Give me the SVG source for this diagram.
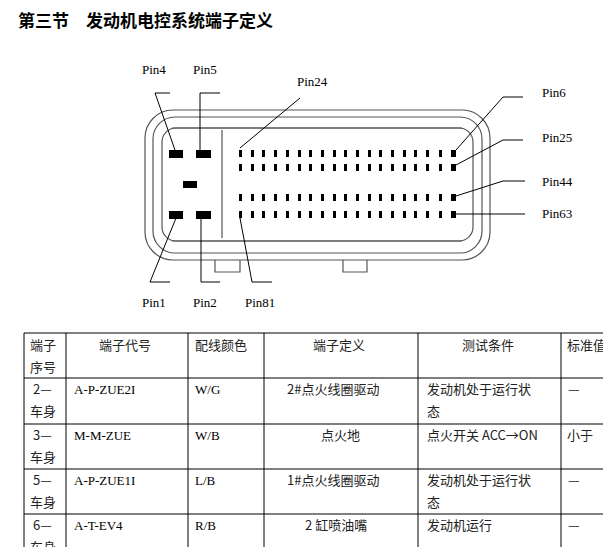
<svg xmlns="http://www.w3.org/2000/svg" width="603" height="547" viewBox="0 0 603 547">
<style>
.t{font-family:"Liberation Serif","Noto Sans CJK SC",serif;font-size:13px;fill:#000}
.c{font-family:"Noto Sans CJK SC",sans-serif;font-size:13px;fill:#222}
.ln{stroke:#000;stroke-width:1;fill:none}
.sh{stroke:#555;stroke-width:1.2;fill:none}
.p{fill:#000}
</style>
<rect width="603" height="547" fill="#fff"/>
<text x="18" y="27" style="font-family:'Noto Sans CJK SC',sans-serif;font-size:17px;font-weight:bold">第三节　发动机电控系统端子定义</text>
<g id="connector">
<rect x="145" y="110" width="345" height="150" rx="28" class="sh"/>
<rect x="153" y="117" width="329" height="136" rx="22" class="sh"/>
<rect x="162" y="128" width="311" height="113" rx="14" class="sh"/>
<line x1="222" y1="130" x2="222" y2="238" class="sh"/>
<line x1="172" y1="128" x2="462" y2="128" class="sh"/>
<line x1="172" y1="241" x2="462" y2="241" class="sh"/>
<path d="M215 260V272H240V260M343 260V272H367V260" class="sh"/>
<g class="p">
<rect x="169" y="150" width="14" height="8"/><rect x="196" y="150" width="15" height="8"/>
<rect x="183" y="181" width="14" height="7"/>
<rect x="169" y="211" width="14" height="8"/><rect x="196" y="211" width="15" height="8"/>
</g>
<g id="pins" class="p">
<path id="row" d="M239 150h3v7h-3zM251 150h3v7h-3zM262 150h3v7h-3zM274 150h3v7h-3zM286 150h3v7h-3zM298 150h3v7h-3zM309 150h3v7h-3zM321 150h3v7h-3zM333 150h3v7h-3zM344 150h3v7h-3zM356 150h3v7h-3zM368 150h3v7h-3zM379 150h3v7h-3zM391 150h3v7h-3zM403 150h3v7h-3zM414 150h3v7h-3zM426 150h3v7h-3zM439 150h3v7h-3zM451 150h5v7h-5z"/>
<use href="#row" y="14"/><use href="#row" y="44"/><use href="#row" y="61"/>
</g>
</g>
<g id="connectors" class="ln">
<path d="M170 93H155L175 150"/>
<path d="M220 93H200V150"/>
<path d="M300 98L240 148"/>
<path d="M523 97H503L456 150"/>
<path d="M523 140H503L456 165"/>
<path d="M525 181H503L456 196"/>
<path d="M456 214H525"/>
<path d="M170 282H150L176 218"/>
<path d="M220 282H201V218"/>
<path d="M272 282H252L240 218"/>
</g>
<g id="labels" class="t">
<text x="142" y="74">Pin4</text><text x="193" y="74">Pin5</text><text x="297" y="86">Pin24</text>
<text x="542" y="97">Pin6</text><text x="542" y="142">Pin25</text><text x="542" y="186">Pin44</text><text x="542" y="218">Pin63</text>
<text x="142" y="307">Pin1</text><text x="193" y="307">Pin2</text><text x="245" y="307">Pin81</text>
</g>
<g id="table">
<path d="M24 333H603M24 378H603M24 424H603M24 469H603M24 514H603M24 333V547M66 333V547M188 333V547M264 333V547M418 333V547M561 333V547" class="ln"/>
<g class="c">
<text x="30" y="350">端子</text><text x="30" y="372">序号</text>
<text x="99" y="350">端子代号</text><text x="195" y="350">配线颜色</text><text x="313" y="350">端子定义</text><text x="462" y="350">测试条件</text><text x="567" y="350">标准值</text>
<text x="33" y="394">2—</text><text x="30" y="416">车身</text>
<text x="74" y="394" class="t">A-P-ZUE2I</text><text x="195" y="394" class="t">W/G</text><text x="287" y="394">2#点火线圈驱动</text><text x="427" y="394">发动机处于运行状</text><text x="427" y="416">态</text><text x="568" y="394">—</text>
<text x="33" y="440">3—</text><text x="30" y="462">车身</text>
<text x="74" y="440" class="t">M-M-ZUE</text><text x="195" y="440" class="t">W/B</text><text x="321" y="440">点火地</text><text x="427" y="440">点火开关 ACC→ON</text><text x="567" y="440">小于</text>
<text x="33" y="485">5—</text><text x="30" y="507">车身</text>
<text x="74" y="485" class="t">A-P-ZUE1I</text><text x="195" y="485" class="t">L/B</text><text x="287" y="485">1#点火线圈驱动</text><text x="427" y="485">发动机处于运行状</text><text x="427" y="507">态</text><text x="568" y="485">—</text>
<text x="33" y="530">6—</text><text x="30" y="552">车身</text>
<text x="74" y="530" class="t">A-T-EV4</text><text x="195" y="530" class="t">R/B</text><text x="305" y="530">2 缸喷油嘴</text><text x="427" y="530">发动机运行</text><text x="568" y="530">—</text>
</g>
</g>
</svg>
